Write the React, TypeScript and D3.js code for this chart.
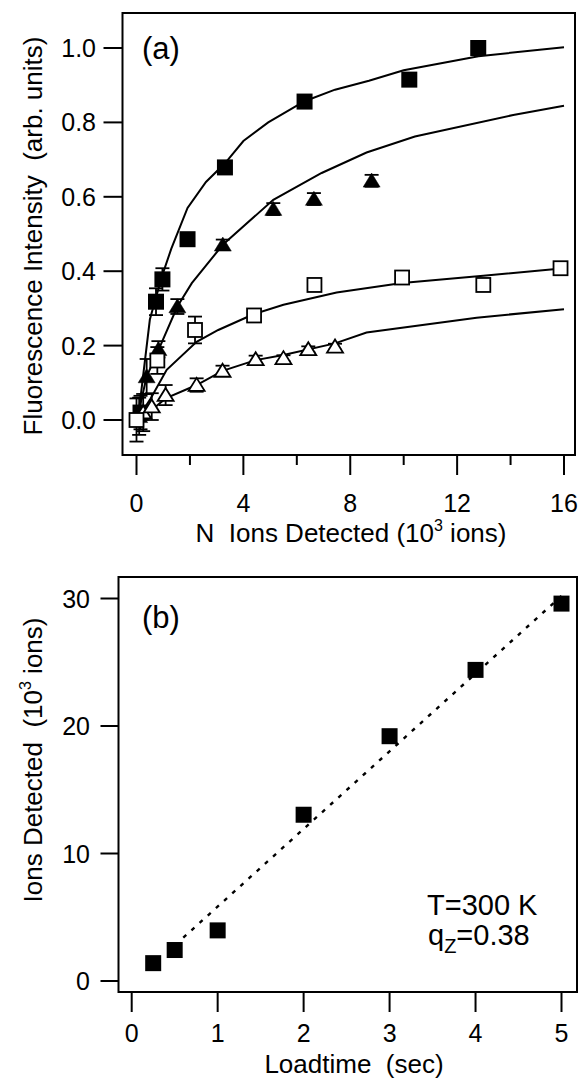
import React from "react";
import * as d3 from "d3";

// ---------- Panel (a) data ----------
const sqFilledN = [0.15, 0.73, 0.97, 1.91, 3.31, 6.29, 10.21, 12.79];
const sqFilledI = [0.02, 0.318, 0.378, 0.486, 0.679, 0.856, 0.915, 1.0];
const sqFilledE = [0.045, 0.036, 0.03, 0.012, 0.012, 0.012, 0.012, 0.012];

const triFilledN = [0.1, 0.38, 0.82, 1.53, 3.23, 5.12, 6.64, 8.8];
const triFilledI = [0.01, 0.117, 0.19, 0.305, 0.471, 0.567, 0.594, 0.643];
const triFilledE = [0.05, 0.047, 0.022, 0.02, 0.014, 0.016, 0.016, 0.016];

const sqOpenN = [0, 0.78, 2.19, 4.4, 6.66, 9.94, 12.98, 15.87];
const sqOpenI = [0, 0.16, 0.242, 0.281, 0.363, 0.383, 0.363, 0.408];
const sqOpenE = [0.058, 0.036, 0.036, 0.012, 0.008, 0.008, 0.008, 0.008];

const triOpenN = [0.25, 0.57, 1.09, 2.25, 3.22, 4.46, 5.5, 6.43, 7.43];
const triOpenI = [0.02, 0.036, 0.067, 0.094, 0.132, 0.163, 0.166, 0.19, 0.197];
const triOpenE = [0.05, 0.036, 0.027, 0.018, 0.014, 0.01, 0.008, 0.008, 0.008];

// fit curves
const fit1N = [0.1, 0.5, 0.73, 0.97, 1.3, 1.91, 2.6, 3.31, 4.0, 4.93, 6.29, 7.43, 8.7, 10.0, 12.8, 16];
const fit1I = [0.03, 0.27, 0.33, 0.39, 0.46, 0.57, 0.64, 0.69, 0.75, 0.8, 0.857, 0.888, 0.912, 0.94, 0.978, 1.002];
const fit2N = [0.07, 0.38, 0.82, 1.53, 2.07, 3.23, 5.12, 6.93, 8.61, 10.42, 14.1, 16];
const fit2I = [0.018, 0.117, 0.188, 0.305, 0.368, 0.471, 0.592, 0.664, 0.719, 0.762, 0.82, 0.845];
const fit3N = [0.1, 0.5, 1.13, 2.25, 3.06, 4.4, 5.5, 7.49, 9.94, 12.98, 16];
const fit3I = [0.01, 0.054, 0.135, 0.21, 0.242, 0.285, 0.31, 0.343, 0.368, 0.388, 0.408];
const fit4N = [0.07, 0.57, 1.09, 2.25, 3.22, 4.46, 5.5, 7.43, 8.61, 12.73, 16];
const fit4I = [0.0, 0.027, 0.058, 0.094, 0.132, 0.161, 0.175, 0.206, 0.235, 0.275, 0.298];

const xTicksA = [0, 2, 4, 6, 8, 10, 12, 14, 16];
const xLabelsA = [0, 4, 8, 12, 16];
const yTicksA = [0, 0.2, 0.4, 0.6, 0.8, 1.0];

// ---------- Panel (b) data ----------
const loadTime = [0.25, 0.5, 1, 2, 3, 4, 5];
const ionsDetected = [1.4, 2.43, 3.97, 13.04, 19.2, 24.4, 29.6];
const fitLoad = [0.6, 5.0];
const fitIons = [3.4, 30.2];
const xTicksB = [0, 1, 2, 3, 4, 5];
const yTicksB = [0, 10, 20, 30];

const FONT = "'Liberation Sans', Arial, Helvetica, sans-serif";

export default function App() {
  // panel (a)
  const xA = d3.scaleLinear().domain([0, 16]).range([136.5, 564]);
  const yA = d3.scaleLinear().domain([0, 1]).range([420, 48]);
  const frameA = { l: 122.5, r: 575, t: 13, b: 455 };
  // panel (b)
  const xB = d3.scaleLinear().domain([0, 5]).range([131.7, 561.5]);
  const yB = d3.scaleLinear().domain([0, 30]).range([981, 598.5]);
  const frameB = { l: 118.5, r: 577, t: 577, b: 992 };

  const lineA = d3
    .line<[number, number]>()
    .x((d) => xA(d[0]))
    .y((d) => yA(d[1]));
  const zip = (a: number[], b: number[]) => a.map((v, i) => [v, b[i]] as [number, number]);

  const fits = [
    zip(fit1N, fit1I),
    zip(fit2N, fit2I),
    zip(fit3N, fit3I),
    zip(fit4N, fit4I),
  ];

  const errBars = (N: number[], I: number[], E: number[], key: string) =>
    N.map((n, i) => {
      const cx = xA(n);
      const y1 = yA(I[i] + E[i]);
      const y2 = yA(I[i] - E[i]);
      const w = 7;
      return (
        <g key={key + i} stroke="#000" strokeWidth={1.8}>
          <line x1={cx} x2={cx} y1={y1} y2={y2} />
          <line x1={cx - w} x2={cx + w} y1={y1} y2={y1} />
          <line x1={cx - w} x2={cx + w} y1={y2} y2={y2} />
        </g>
      );
    });

  const squares = (N: number[], I: number[], size: number, filled: boolean, key: string) =>
    N.map((n, i) => (
      <rect
        key={key + i}
        x={xA(n) - size / 2}
        y={yA(I[i]) - size / 2}
        width={size}
        height={size}
        fill={filled ? "#000" : "#fff"}
        stroke="#000"
        strokeWidth={filled ? 0 : 1.8}
      />
    ));

  const tris = (N: number[], I: number[], w: number, h: number, filled: boolean, key: string) =>
    N.map((n, i) => {
      const cx = xA(n);
      const cy = yA(I[i]);
      const p = d3.path();
      p.moveTo(cx, cy - h * 0.55);
      p.lineTo(cx + w / 2, cy + h * 0.45);
      p.lineTo(cx - w / 2, cy + h * 0.45);
      p.closePath();
      return (
        <path
          key={key + i}
          d={p.toString()}
          fill={filled ? "#000" : "#fff"}
          stroke="#000"
          strokeWidth={filled ? 0.5 : 1.8}
          strokeLinejoin="miter"
        />
      );
    });

  const lineB = d3
    .line<[number, number]>()
    .x((d) => xB(d[0]))
    .y((d) => yB(d[1]));

  return (
    <svg
      width={582}
      height={1081}
      style={{ position: "absolute", left: 0, top: 0, background: "#fff" }}
      fontFamily={FONT}
    >
      <rect x={0} y={0} width={582} height={1081} fill="#fff" />

      {/* ===== Panel (a) ===== */}
      <g>
        {fits.map((f, i) => (
          <path key={"fit" + i} d={lineA(f) || ""} fill="none" stroke="#000" strokeWidth={2} />
        ))}
        {errBars(triFilledN, triFilledI, triFilledE, "etf")}
        {errBars(sqFilledN, sqFilledI, sqFilledE, "esf")}
        {errBars(triOpenN, triOpenI, triOpenE, "eto")}
        {errBars(sqOpenN, sqOpenI, sqOpenE, "eso")}
        {tris(triFilledN, triFilledI, 17, 14, true, "tf")}
        {squares(sqFilledN, sqFilledI, 16, true, "sf")}
        {tris(triOpenN, triOpenI, 16, 13, false, "to")}
        {squares(sqOpenN, sqOpenI, 14, false, "so")}

        <rect
          x={frameA.l}
          y={frameA.t}
          width={frameA.r - frameA.l}
          height={frameA.b - frameA.t}
          fill="none"
          stroke="#000"
          strokeWidth={2}
        />
        {xTicksA.map((t) => {
          const major = xLabelsA.includes(t);
          return (
            <line
              key={"xta" + t}
              x1={xA(t)}
              x2={xA(t)}
              y1={frameA.b}
              y2={frameA.b + (major ? 20 : 10)}
              stroke="#000"
              strokeWidth={2}
            />
          );
        })}
        {xLabelsA.map((t) => (
          <text key={"xla" + t} x={xA(t)} y={512} fontSize={25} textAnchor="middle">
            {t}
          </text>
        ))}
        {yTicksA.map((t) => (
          <line key={"yta" + t} x1={frameA.l - 19} x2={frameA.l} y1={yA(t)} y2={yA(t)} stroke="#000" strokeWidth={2} />
        ))}
        {yTicksA.map((t) => (
          <text key={"yla" + t} x={96} y={yA(t) + 9} fontSize={25} textAnchor="end">
            {d3.format(".1f")(t)}
          </text>
        ))}
        <text x={351} y={542} fontSize={26} textAnchor="middle">
          N{"\u00A0\u00A0"}Ions Detected (10
          <tspan fontSize={16} dy={-11}>3</tspan>
          <tspan dy={11}> ions)</tspan>
        </text>
        <text transform="translate(42,236) rotate(-90)" fontSize={26} textAnchor="middle">
          Fluorescence Intensity{"\u00A0\u00A0"}(arb. units)
        </text>
        <text x={142} y={59} fontSize={31}>
          (a)
        </text>
      </g>

      {/* ===== Panel (b) ===== */}
      <g>
        <path
          d={lineB(zip(fitLoad, fitIons)) || ""}
          fill="none"
          stroke="#000"
          strokeWidth={2.4}
          strokeDasharray="4 7"
        />
        {loadTime.map((t, i) => (
          <rect key={"b" + i} x={xB(t) - 8} y={yB(ionsDetected[i]) - 8} width={16} height={16} fill="#000" />
        ))}
        <rect
          x={frameB.l}
          y={frameB.t}
          width={frameB.r - frameB.l}
          height={frameB.b - frameB.t}
          fill="none"
          stroke="#000"
          strokeWidth={2}
        />
        {xTicksB.map((t) => (
          <line key={"xtb" + t} x1={xB(t)} x2={xB(t)} y1={frameB.b} y2={frameB.b + 20} stroke="#000" strokeWidth={2} />
        ))}
        {xTicksB.map((t) => (
          <text key={"xlb" + t} x={xB(t)} y={1042} fontSize={25} textAnchor="middle">
            {t}
          </text>
        ))}
        {yTicksB.map((t) => (
          <line key={"ytb" + t} x1={frameB.l - 18} x2={frameB.l} y1={yB(t)} y2={yB(t)} stroke="#000" strokeWidth={2} />
        ))}
        {yTicksB.map((t) => (
          <text key={"ylb" + t} x={90} y={yB(t) + 9} fontSize={25} textAnchor="end">
            {t}
          </text>
        ))}
        <text x={354} y={1073} fontSize={26} textAnchor="middle">
          Loadtime{"\u00A0\u00A0"}(sec)
        </text>
        <text transform="translate(42,760) rotate(-90)" fontSize={26} textAnchor="middle">
          Ions Detected{"\u00A0\u00A0"}(10
          <tspan fontSize={16} dy={-11}>3</tspan>
          <tspan dy={11}> ions)</tspan>
        </text>
        <text x={142} y={628} fontSize={31}>
          (b)
        </text>
        <text x={427} y={915} fontSize={29}>
          T=300 K
        </text>
        <text x={428} y={945} fontSize={29}>
          q<tspan fontSize={20} dy={8}>Z</tspan>
          <tspan dy={-8}>=0.38</tspan>
        </text>
      </g>
    </svg>
  );
}
